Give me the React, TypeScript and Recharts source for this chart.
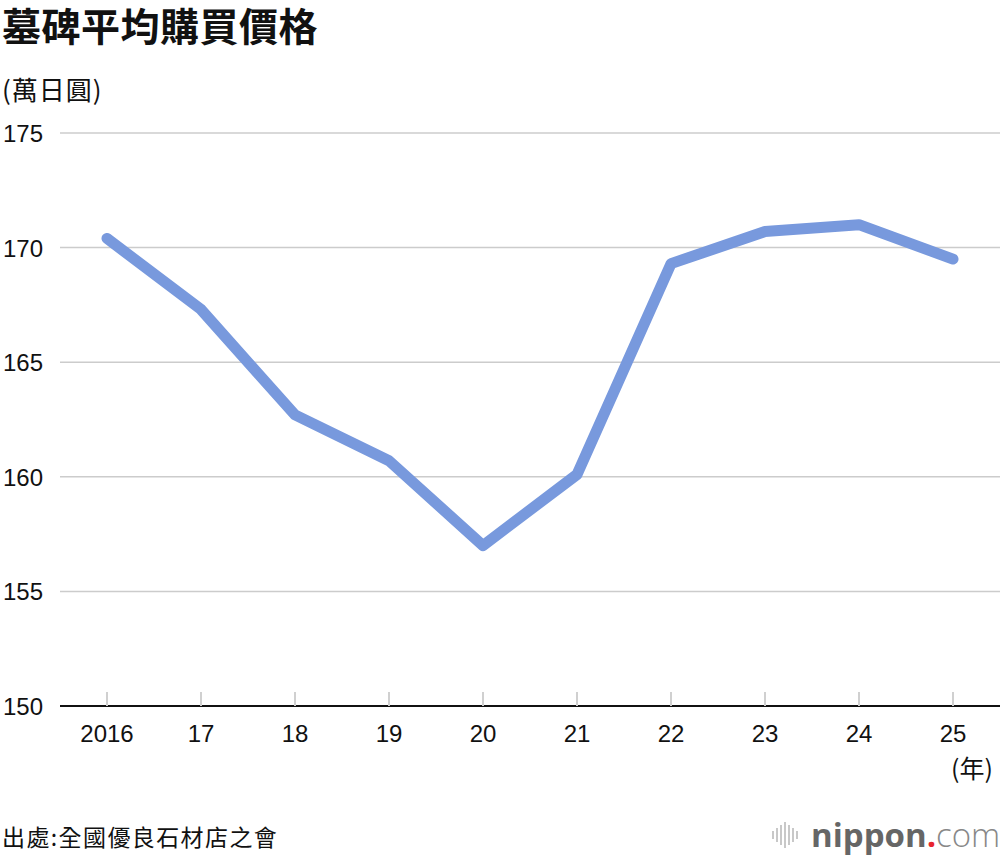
import React from "react";
import { LineChart, Line, XAxis, YAxis, CartesianGrid } from "recharts";

const years = ["2016", "17", "18", "19", "20", "21", "22", "23", "24", "25"];
const prices = [170.4, 167.3, 162.7, 160.7, 157.0, 160.1, 169.3, 170.7, 171.0, 169.5];
const yTicks = [150, 155, 160, 165, 170, 175];

const data = years.map((y, i) => ({ year: y, price: prices[i] }));

const NUM_FONT = "'Liberation Sans', Arial, sans-serif";
const CJK_FONT = "'Noto Sans CJK TC', 'Noto Sans CJK JP', sans-serif";
const LOGO_FONT = "'Open Sans', 'Noto Sans', sans-serif";

const XTick = (props: any) => {
  const { x, y, payload } = props;
  return (
    <g>
      <line x1={x} x2={x} y1={y - 14} y2={y} stroke="#d0d0d0" strokeWidth={2} />
      <text x={x} y={y + 36} textAnchor="middle" fontFamily={NUM_FONT} fontSize={24} fill="#111">
        {payload.value}
      </text>
    </g>
  );
};

const YTick = (props: any) => {
  const { y, payload } = props;
  return (
    <text x={3} y={y + 9} textAnchor="start" fontFamily={NUM_FONT} fontSize={24} fill="#111">
      {payload.value}
    </text>
  );
};

const bars = [8, 14, 20, 26, 20, 14, 8];

export default function App() {
  return (
    <div style={{ position: "absolute", left: 0, top: 0, width: 1000, height: 856, background: "#fff", overflow: "hidden" }}>
      <div style={{ position: "absolute", left: 2, top: 4, width: 600, whiteSpace: "nowrap", fontFamily: CJK_FONT, fontWeight: 700, fontSize: 39, color: "#111", lineHeight: "40px", letterSpacing: 0.5 }}>
        墓碑平均購買價格
      </div>
      <div style={{ position: "absolute", left: 2, top: 72, width: 300, whiteSpace: "nowrap", fontFamily: CJK_FONT, fontSize: 26, color: "#111", lineHeight: "34px", letterSpacing: 1 }}>
        (萬日圓)
      </div>
      <LineChart width={1000} height={856} data={data} margin={{ top: 133, right: 0, left: 0, bottom: 90 }}>
        <CartesianGrid horizontal={true} vertical={false} stroke="#cccccc" strokeWidth={1.5} />
        <XAxis
          dataKey="year"
          height={60}
          tickSize={0}
          tickMargin={0}
          padding={{ left: 47, right: 47 }}
          axisLine={{ stroke: "#111", strokeWidth: 2 }}
          tickLine={false}
          tick={<XTick />}
          interval={0}
        />
        <YAxis
          width={60}
          domain={[150, 175]}
          ticks={yTicks}
          axisLine={false}
          tickLine={false}
          tick={<YTick />}
          interval={0}
        />
        <Line
          type="linear"
          dataKey="price"
          stroke="#7899dd"
          strokeWidth={11}
          strokeLinecap="round"
          strokeLinejoin="round"
          dot={false}
          activeDot={false}
          isAnimationActive={false}
        />
      </LineChart>
      <div style={{ position: "absolute", left: 951, top: 751, whiteSpace: "nowrap", fontFamily: CJK_FONT, fontSize: 25, color: "#111", lineHeight: "32px" }}>
        (年)
      </div>
      <div style={{ position: "absolute", left: 2, top: 821, width: 400, whiteSpace: "nowrap", fontFamily: CJK_FONT, fontSize: 23, color: "#111", lineHeight: "30px", letterSpacing: 1.4 }}>
        出處:全國優良石材店之會
      </div>
      <div style={{ position: "absolute", left: 772, top: 817, height: 36, display: "flex", alignItems: "center", whiteSpace: "nowrap" }}>
        <div style={{ display: "flex", alignItems: "center", gap: 2, marginRight: 13 }}>
          {bars.map((h, i) => (
            <div key={i} style={{ width: 2, height: h, background: "#c8c8c8" }} />
          ))}
        </div>
        <span style={{ fontFamily: LOGO_FONT, fontWeight: 700, fontSize: 33, color: "#666", lineHeight: "36px" }}>nippon</span>
        <span style={{ fontFamily: LOGO_FONT, fontWeight: 700, fontSize: 33, color: "#e8252e", lineHeight: "36px" }}>.</span>
        <span style={{ fontFamily: LOGO_FONT, fontWeight: 300, fontSize: 33, color: "#888", lineHeight: "36px" }}>com</span>
      </div>
    </div>
  );
}
